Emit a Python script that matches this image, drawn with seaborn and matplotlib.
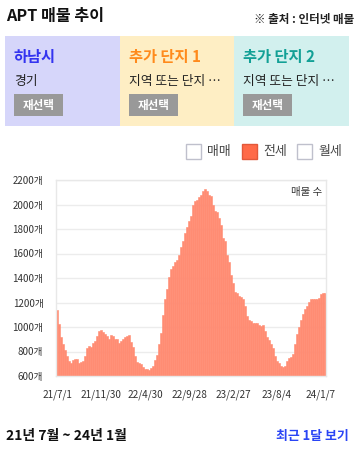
import matplotlib
matplotlib.use("Agg")
import matplotlib.pyplot as plt
from matplotlib.patches import Rectangle
import seaborn as sns
import pandas as pd

# weekly listing counts (전세)
counts = [
    1140, 1025, 920, 858, 810, 766, 722, 708, 730, 740, 740, 710, 712, 720, 760, 825, 841, 835, 870, 882, 930, 964, 978,
    960, 940, 925, 905, 937, 923, 901, 901, 870, 885, 905, 915, 930, 932, 880, 840, 760, 715, 704, 695, 675, 660,
    655, 650, 667, 680, 727, 775, 860, 950, 1095, 1228, 1314, 1412, 1470, 1495, 1529, 1547, 1585, 1650, 1700, 1765, 1815, 1865, 1905,
    1995, 2025, 2033, 2060, 2080, 2107, 2123, 2107, 2080, 2069, 1997, 1951, 1942, 1890, 1830, 1730, 1700, 1590, 1530, 1425, 1360, 1285,
    1274, 1252, 1242, 1228, 1172, 1092, 1060, 1050, 1035, 1033, 1035, 1020, 1010, 1013, 968, 920, 895, 860, 825, 760, 720, 704, 685,
    671, 685, 720, 745, 753, 780, 858, 944, 998, 1056, 1104, 1148, 1170, 1205, 1230, 1230, 1230, 1230, 1240, 1270, 1274, 1274,
]
tick_pos = [0, 22, 44, 66, 88, 110, 132]
tick_labels = ["21/7/1", "21/11/30", "22/4/30", "22/9/28", "23/2/27", "23/8/4", "24/1/7"]
y_ticks = [600, 800, 1000, 1200, 1400, 1600, 1800, 2000, 2200]

panel_titles = ["하남시", "추가 단지 1", "추가 단지 2"]
panel_subs = ["경기", "지역 또는 단지 …", "지역 또는 단지 …"]
panel_bg = ["#d6d6fa", "#feeec4", "#d2f0ee"]
panel_fg = ["#3434f0", "#ff8a1c", "#12a096"]

legend_labels = ["매매", "전세", "월세"]

sns.set_style("white")
plt.rcParams["font.family"] = ["Noto Sans CJK KR", "DejaVu Sans"]

W, H = 359, 453
fig = plt.figure(figsize=(W / 100, H / 100), dpi=100)

# background layer in pixel coordinates
bg = fig.add_axes([0, 0, 1, 1])
bg.set_xlim(0, W)
bg.set_ylim(H, 0)
bg.axis("off")

bg.text(6, 16, "APT 매물 추이", fontsize=11.6, fontweight="bold", va="center", color="#111")
bg.text(354, 19, "※ 출처 : 인터넷 매물", fontsize=8.3, fontweight="bold", va="center", ha="right", color="#222")

px = [5, 120, 234]
for i in range(3):
    x0 = px[i]
    bg.add_patch(Rectangle((x0, 36), 115, 90, facecolor=panel_bg[i], edgecolor="none"))
    bg.text(x0 + 9, 57, panel_titles[i], fontsize=11, fontweight="bold", color=panel_fg[i], va="center")
    bg.text(x0 + 9, 81, panel_subs[i], fontsize=9.2, color="#222", va="center")
    bg.add_patch(Rectangle((x0 + 9, 94), 49, 22, facecolor="#999999", edgecolor="none"))
    bg.text(x0 + 33.5, 105, "재선택", fontsize=8.3, fontweight="bold", color="white", ha="center", va="center")

# legend
lx = [186, 242, 297]
for i, lab in enumerate(legend_labels):
    if lab == "전세":
        bg.add_patch(Rectangle((lx[i], 144), 15, 15, facecolor="#ff6a48", edgecolor="#e2583a", lw=1))
    else:
        bg.add_patch(Rectangle((lx[i], 144), 15, 15, facecolor="white", edgecolor="#bfc0cc", lw=1))
    bg.text(lx[i] + 21, 152, lab, fontsize=9.3, color="#444", va="center")

bg.text(6, 436, "21년 7월 ~ 24년 1월", fontsize=10, fontweight="bold", va="center", color="#111")
bg.text(349, 436, "최근 1달 보기", fontsize=9.3, fontweight="bold", va="center", ha="right", color="#2a45f5")

# chart
ax = fig.add_axes([56 / W, 1 - 376 / H, 270 / W, 196 / H])
df = pd.DataFrame({"idx": range(len(counts)), "count": counts})
sns.barplot(data=df, x="idx", y="count", color="#ff8c73", width=1.0, saturation=1,
            edgecolor="#ff8c73", linewidth=0.4, ax=ax, zorder=2)
ax.set_xlim(-0.5, len(counts) - 0.5)
ax.set_ylim(600, 2200)
ax.set_yticks(y_ticks)
ax.set_yticklabels([f"{v}개" for v in y_ticks], fontsize=7, color="#333")
ax.set_xticks(tick_pos)
ax.set_xticklabels(tick_labels, fontsize=7.2, color="#333")
ax.tick_params(length=0)
ax.tick_params(axis="y", pad=9)
ax.tick_params(axis="x", pad=10)
ax.set_xlabel("")
ax.set_ylabel("")
ax.grid(axis="y", color="#ececec", lw=1, zorder=0)
ax.set_axisbelow(True)
for s in ax.spines.values():
    s.set_color("#e8e8e8")
    s.set_linewidth(1)
ax.text(0.985, 0.94, "매물 수", transform=ax.transAxes, ha="right", va="center", fontsize=7.5, color="#333", zorder=3)

fig.savefig("out.png", dpi=100)
